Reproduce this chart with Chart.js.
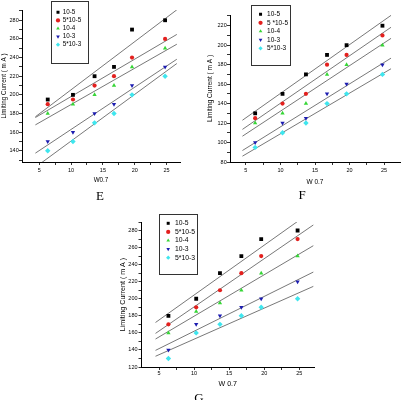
<!DOCTYPE html>
<html><head><meta charset="utf-8">
<script src="https://cdn.jsdelivr.net/npm/chart.js@4.4.0/dist/chart.umd.min.js"></script>
<style>
html,body{margin:0;padding:0;background:#fff;}
body{width:403px;height:400px;position:relative;overflow:hidden;}
canvas{position:absolute;}
.cap{position:absolute;width:40px;text-align:center;font-family:'Liberation Serif','DejaVu Serif',serif;font-size:13px;line-height:1;color:#000;}
</style></head><body>
<canvas id="cE" width="200" height="190" style="left:0;top:0;width:200px;height:190px"></canvas>
<canvas id="cF" width="203" height="190" style="left:200px;top:0;width:203px;height:190px"></canvas>
<canvas id="cG" width="240" height="210" style="left:100px;top:190px;width:240px;height:210px"></canvas>
<div class="cap" style="left:80px;top:189px">E</div>
<div class="cap" style="left:282px;top:188px">F</div>
<div class="cap" style="left:179px;top:391px">G</div>
<script>
// ---- data ----
const xW = [6.34, 10.30, 13.69, 16.74, 19.57, 24.76];
const namesE = ['10-5', '5*10-5', '10-4', '10-3', '5*10-3'];
const namesF = ['10-5', '5 *10-5', '10-4', '10-3', '5*10-3'];
const namesG = ['10-5', '5*10-5', '10-4', '10-3', '5*10-3'];

const eY1 = [195, 200, 220, 230, 270, 280];
const eY2 = [190, 195, 210, 220, 240, 260];
const eY3 = [180, 190, 200, 210, 230, 250];
const eY4 = [150, 160, 180, 190, 210, 230];
const eY5 = [140, 150, 170, 180, 200, 220];

const fY1 = [130, 150, 170, 190, 200, 220];
const fY2 = [125, 140, 150, 180, 190, 210];
const fY3 = [120, 130, 140, 170, 180, 200];
const fY4 = [100, 120, 125, 150, 160, 180];
const fY5 = [95, 110, 120, 140, 150, 170];

const gY1 = [180, 200, 230, 250, 270, 280];
const gY2 = [170, 190, 210, 230, 250, 270];
const gY3 = [160, 185, 195, 210, 230, 250];
const gY4 = [140, 170, 180, 190, 200, 220];
const gY5 = [130, 160, 170, 180, 190, 200];

// fitted straight lines: x at both ends, y at start and end
const fitXE = [4.4, 26.6];
const fitStartE = [176.5, 175.7, 167.8, 137.5, 122.4];
const fitEndE = [291.2, 264.8, 254.3, 238.2, 233.6];
const fitXF = [4.5, 26.0];
const fitStartF = [122.9, 113.5, 106.5, 91.8, 86.0];
const fitEndF = [230.6, 218.4, 207.0, 186.7, 175.8];
const fitXG = [4.5, 27.0];
const fitStartG = [172.2, 159.4, 152.8, 139.5, 132.6];
const fitEndG = [303.8, 286.5, 262.2, 231.3, 214.5];

// tick values
const xTicks = [5, 7.5, 10, 12.5, 15, 17.5, 20, 22.5, 25];
const yTicksE = [130, 140, 150, 160, 170, 180, 190, 200, 210, 220, 230, 240, 250, 260, 270, 280, 290];
const yTicksF = [80, 90, 100, 110, 120, 130, 140, 150, 160, 170, 180, 190, 200, 210, 220, 230];
const yTicksG = [120, 130, 140, 150, 160, 170, 180, 190, 200, 210, 220, 230, 240, 250, 260, 270, 280, 290];

// ---- styles ----
Chart.defaults.color = '#000';
Chart.defaults.font.family = "'Liberation Sans', Arial, sans-serif";
Chart.defaults.animation = false;

const COLORS = ['#000000', '#e3201e', '#36d636', '#1c1cb0', '#3fe6ee'];
const STYLES = ['rect', 'circle', 'triangle', 'triangle', 'rectRot'];
const ROT = [0, 0, 0, 180, 0];
const RAD = [2.7, 2.1, 2.5, 2.5, 2.7];

const legendPlacer = {
  id: 'legendPlacer',
  afterLayout(chart, args, o) {
    const lg = chart.legend;
    if (!lg) return;
    lg.left = o.left; lg.top = o.top; lg.width = 70; lg.height = 70;
    lg.right = o.left + 70; lg.bottom = o.top + 70;
  },
  afterDraw(chart, args, o) {
    const c = chart.ctx;
    c.save();
    c.strokeStyle = '#333';
    c.lineWidth = 1;
    c.strokeRect(o.box[0], o.box[1], o.box[2], o.box[3]);
    c.restore();
  }
};

function makeChart(id, p) {
  const datasets = [];
  p.ys.forEach((ys, i) => {
    datasets.push({
      label: p.names[i],
      data: xW.map((x, j) => ({x: x, y: ys[j]})),
      backgroundColor: COLORS[i], borderColor: COLORS[i], borderWidth: 0,
      pointStyle: STYLES[i], pointRotation: ROT[i],
      pointRadius: RAD[i], pointHoverRadius: RAD[i],
      showLine: false, order: 0
    });
  });
  p.fitStart.forEach((s, i) => {
    datasets.push({
      type: 'line', label: 'fit ' + p.names[i],
      data: [{x: p.fitX[0], y: s}, {x: p.fitX[1], y: p.fitEnd[i]}],
      borderColor: '#555', backgroundColor: '#555', borderWidth: 0.8,
      pointRadius: 0, pointHoverRadius: 0, fill: false, order: 1
    });
  });
  return new Chart(document.getElementById(id), {
    type: 'scatter',
    data: {datasets: datasets},
    plugins: [legendPlacer],
    options: {
      responsive: false,
      devicePixelRatio: 1,
      events: [],
      layout: {padding: p.pad},
      plugins: {
        tooltip: {enabled: false},
        legend: {
          display: true, position: 'chartArea', align: 'start',
          labels: {
            usePointStyle: true, boxWidth: p.lgBoxW, boxHeight: 3,
            padding: p.lgPad, font: {size: p.lgFont}, color: '#000',
            filter: it => it.datasetIndex < 5
          }
        },
        legendPlacer: {left: p.lgLeft, top: p.lgTop, box: p.lgBox}
      },
      scales: {
        x: {
          type: 'linear', min: p.xMin, max: p.xMax,
          afterBuildTicks: s => { s.ticks = xTicks.map(v => ({value: v})); },
          afterFit: s => { s.height = p.xH; },
          ticks: {
            callback: v => (v % 5 === 0 ? String(v) : ''),
            font: {size: p.tickFont}, padding: p.xTickPad,
            maxRotation: 0, autoSkip: false, color: '#000'
          },
          grid: {drawOnChartArea: false, drawTicks: true, tickLength: 3, color: '#000', tickColor: '#000', tickWidth: 0.8},
          border: {display: true, color: '#000', width: 1},
          title: {display: true, text: p.xTitle, font: {size: p.titleFont}, padding: {top: 0, bottom: p.xTitlePad}, color: '#000'}
        },
        y: {
          type: 'linear', min: p.yMin, max: p.yMax,
          afterBuildTicks: s => { s.ticks = p.yTicks.map(v => ({value: v})); },
          afterFit: s => { s.width = p.yW; },
          ticks: {
            callback: v => (v % 20 === 0 ? String(v) : ''),
            font: {size: p.tickFont}, padding: p.yTickPad, autoSkip: false, color: '#000'
          },
          grid: {drawOnChartArea: false, drawTicks: true, tickLength: 3, color: '#000', tickColor: '#000', tickWidth: 0.8},
          border: {display: true, color: '#000', width: 1},
          title: {display: true, text: 'Limiting Current ( m A )', font: {size: p.titleFont}, padding: {top: p.yTitlePad, bottom: 0}, color: '#000'}
        }
      }
    }
  });
}

makeChart('cE', {
  names: namesE, ys: [eY1, eY2, eY3, eY4, eY5],
  fitX: fitXE, fitStart: fitStartE, fitEnd: fitEndE,
  xMin: 2.3, xMax: 27.1, yMin: 128, yMax: 291, yTicks: yTicksE,
  pad: {left: 0, top: 10, right: 20, bottom: 0}, yW: 22, xH: 28,
  tickFont: 5.5, titleFont: 6.3, xTitle: 'W0.7', xTitlePad: 6.2, yTitlePad: 0,
  xTickPad: 2.4, yTickPad: 0.3,
  lgFont: 6.3, lgBoxW: 3, lgPad: 1.8, lgLeft: 54.7, lgTop: 7.35, lgBox: [51.5, 1.5, 37, 62]
});

makeChart('cF', {
  names: namesF, ys: [fY1, fY2, fY3, fY4, fY5],
  fitX: fitXF, fitStart: fitStartF, fitEnd: fitEndF,
  xMin: 2.7, xMax: 27.3, yMin: 80, yMax: 231, yTicks: yTicksF,
  pad: {left: 0, top: 15, right: 3, bottom: 0}, yW: 30, xH: 28,
  tickFont: 5.5, titleFont: 6.5, xTitle: 'W 0.7', xTitlePad: 4.3, yTitlePad: 6.4,
  xTickPad: 1.7, yTickPad: 0.3,
  lgFont: 6.5, lgBoxW: 6.5, lgPad: 2, lgLeft: 55.3, lgTop: 9.05, lgBox: [51.5, 5.5, 39, 60]
});

makeChart('cG', {
  names: namesG, ys: [gY1, gY2, gY3, gY4, gY5],
  fitX: fitXG, fitStart: fitStartG, fitEnd: fitEndG,
  xMin: 2.5, xMax: 27.1, yMin: 120, yMax: 290, yTicks: yTicksG,
  pad: {left: 0, top: 32, right: 26, bottom: 0}, yW: 41.5, xH: 33,
  tickFont: 5.5, titleFont: 7.1, xTitle: 'W 0.7', xTitlePad: 11.4, yTitlePad: 18.5,
  xTickPad: 0.5, yTickPad: 1,
  lgFont: 6.8, lgBoxW: 6.8, lgPad: 1.8, lgLeft: 63, lgTop: 28.1, lgBox: [59.5, 24.5, 38, 60]
});
</script>
</body></html>
